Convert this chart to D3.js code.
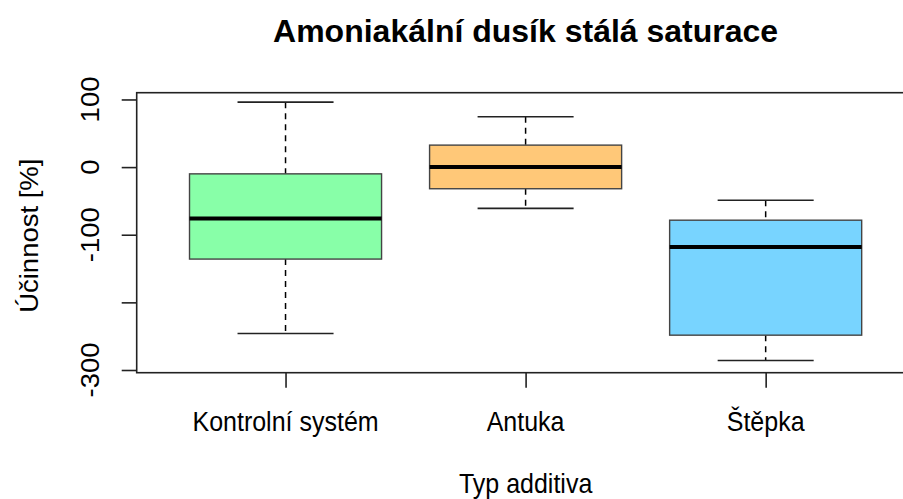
<!DOCTYPE html>
<html lang="cs">
<head>
<meta charset="UTF-8">
<title>Amoniakální dusík stálá saturace</title>
<script src="https://cdnjs.cloudflare.com/ajax/libs/d3/7.8.5/d3.min.js"></script>
<style>
  body { margin: 0; background: #fff; }
  svg text { font-family: "Liberation Sans", Arial, sans-serif; fill: #000; }
</style>
</head>
<body>
<div id="chart"></div>
<script>
// data
const categories = ["Kontrolní systém", "Antuka", "Štěpka"];
const whiskerLow = [-246, -61, -286];
const q1 = [-136, -32, -248.5];
const median = [-76, 0, -118];
const q3 = [-10, 32.5, -78.5];
const whiskerHigh = [96, 74.5, -49];
const boxColors = ["#88FFA8", "#FFC878", "#78D4FF"];
const yTicks = [100, 0, -100, -200, -300];
const yTickLabels = ["100", "0", "-100", "", "-300"]; // R drops -200, it would overlap

const width = 903, height = 499;
const plot = { left: 136.7, right: 914.5, top: 92.7, bottom: 372.7 };
const stretch = 1.1; // text in the reference is a bit taller than wide

const svg = d3.select("#chart").append("svg")
  .attr("width", width)
  .attr("height", height);

const x = d3.scalePoint()
  .domain(categories)
  .range([plot.left, plot.right])
  .padding(0.62);

const y = d3.scaleLinear()
  .domain([-304, 110])
  .range([plot.bottom, plot.top]);

const boxW = x.step() * 0.8;
const capW = boxW / 2;

const stats = categories.map((c, i) => ({
  cat: c, lo: whiskerLow[i], q1: q1[i], med: median[i], q3: q3[i], hi: whiskerHigh[i], fill: boxColors[i]
}));

const g = svg.append("g").selectAll("g")
  .data(stats)
  .join("g")
  .attr("transform", d => `translate(${x(d.cat)},0)`);

// dashed whiskers
g.append("line")
  .attr("y1", d => y(d.hi)).attr("y2", d => y(d.q3))
  .attr("stroke", "#000").attr("stroke-width", 1.5).attr("stroke-dasharray", "6,5");
g.append("line")
  .attr("y1", d => y(d.q1)).attr("y2", d => y(d.lo))
  .attr("stroke", "#000").attr("stroke-width", 1.5).attr("stroke-dasharray", "6,5");

// whisker caps
g.append("line")
  .attr("x1", -capW / 2).attr("x2", capW / 2)
  .attr("y1", d => y(d.hi)).attr("y2", d => y(d.hi))
  .attr("stroke", "#222").attr("stroke-width", 1.6);
g.append("line")
  .attr("x1", -capW / 2).attr("x2", capW / 2)
  .attr("y1", d => y(d.lo)).attr("y2", d => y(d.lo))
  .attr("stroke", "#222").attr("stroke-width", 1.6);

// boxes
g.append("rect")
  .attr("x", -boxW / 2)
  .attr("width", boxW)
  .attr("y", d => y(d.q3))
  .attr("height", d => y(d.q1) - y(d.q3))
  .attr("fill", d => d.fill)
  .attr("stroke", "#444")
  .attr("stroke-width", 1.4);

// medians
g.append("line")
  .attr("x1", -boxW / 2).attr("x2", boxW / 2)
  .attr("y1", d => y(d.med)).attr("y2", d => y(d.med))
  .attr("stroke", "#000").attr("stroke-width", 4);

// plot frame
svg.append("rect")
  .attr("x", plot.left).attr("y", plot.top)
  .attr("width", plot.right - plot.left)
  .attr("height", plot.bottom - plot.top)
  .attr("fill", "none")
  .attr("stroke", "#222")
  .attr("stroke-width", 1.6);

// y axis
const yAxis = svg.append("g")
  .attr("transform", `translate(${plot.left},0)`)
  .call(d3.axisLeft(y).tickValues(yTicks).tickSize(15).tickFormat(""));
yAxis.select(".domain").remove();
yAxis.selectAll(".tick line").attr("stroke", "#222").attr("stroke-width", 1.6);

svg.append("g").selectAll("text")
  .data(yTicks.map((v, i) => ({ v, label: yTickLabels[i] })).filter(d => d.label !== ""))
  .join("text")
  .attr("transform", d => `translate(99.3,${y(d.v)}) rotate(-90) scale(${stretch},1)`)
  .attr("text-anchor", "middle")
  .attr("font-size", 25)
  .text(d => d.label);

// x axis
const xAxis = svg.append("g")
  .attr("transform", `translate(0,${plot.bottom})`)
  .call(d3.axisBottom(x).tickSize(15).tickFormat(""));
xAxis.select(".domain").remove();
xAxis.selectAll(".tick line").attr("stroke", "#222").attr("stroke-width", 1.6);

svg.append("g").selectAll("text")
  .data(categories)
  .join("text")
  .attr("transform", d => `translate(${x(d)},430.7) scale(1,${stretch})`)
  .attr("text-anchor", "middle")
  .attr("font-size", 25)
  .text(d => d);

const midX = (plot.left + plot.right) / 2;
const midY = (plot.top + plot.bottom) / 2;

// axis titles
svg.append("text")
  .attr("transform", `translate(${midX},492.5) scale(1,${stretch})`)
  .attr("text-anchor", "middle")
  .attr("font-size", 25)
  .text("Typ additiva");

svg.append("text")
  .attr("transform", `translate(37.7,${midY + 3}) rotate(-90) scale(${stretch},1)`)
  .attr("text-anchor", "middle")
  .attr("font-size", 25)
  .text("Účinnost [%]");

// title
svg.append("text")
  .attr("x", midX)
  .attr("y", 42)
  .attr("text-anchor", "middle")
  .attr("font-size", 32)
  .attr("font-weight", "bold")
  .text("Amoniakální dusík stálá saturace");
</script>
</body>
</html>
